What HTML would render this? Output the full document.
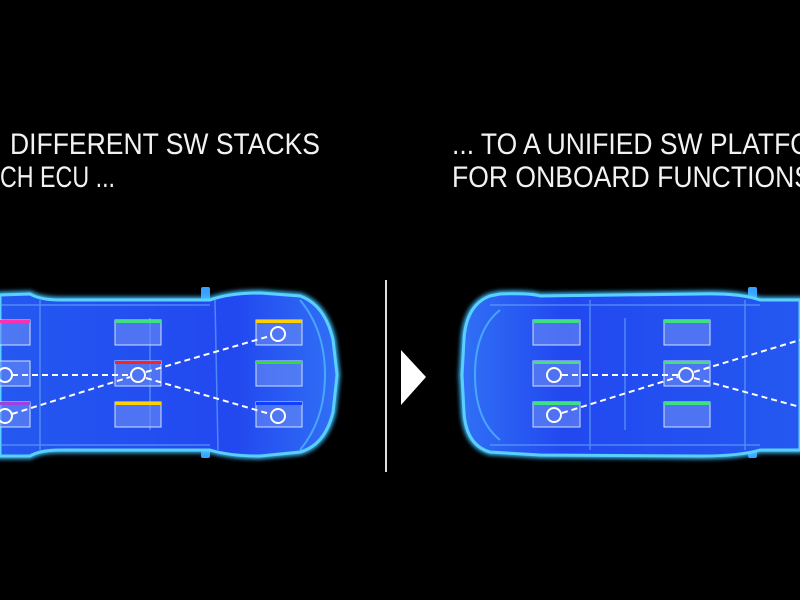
<!DOCTYPE html>
<html><head><meta charset="utf-8"><style>
html,body{margin:0;padding:0;background:#000;width:800px;height:600px;overflow:hidden}
svg{display:block}
text{font-family:"Liberation Sans",sans-serif;fill:#f2f2f2;font-size:30px}
</style></head><body>
<svg width="800" height="600" viewBox="0 0 800 600">
<defs>
<linearGradient id="bodyL" x1="0" x2="1"><stop offset="0" stop-color="#2458f0"/><stop offset="0.7" stop-color="#2248f0"/><stop offset="1" stop-color="#3070f5"/></linearGradient>
<linearGradient id="bodyR" x1="1" x2="0"><stop offset="0" stop-color="#2458f0"/><stop offset="0.7" stop-color="#2248f0"/><stop offset="1" stop-color="#3070f5"/></linearGradient>
<filter id="glow" x="-10%" y="-20%" width="120%" height="140%"><feGaussianBlur stdDeviation="2"/></filter>
</defs>
<text x="10" y="154" textLength="310" lengthAdjust="spacingAndGlyphs">DIFFERENT SW STACKS</text>
<text x="0" y="187" textLength="115" lengthAdjust="spacingAndGlyphs">CH ECU ...</text>
<text x="452" y="154" textLength="400" lengthAdjust="spacingAndGlyphs">... TO A UNIFIED SW PLATFORM</text>
<text x="452" y="187" textLength="360" lengthAdjust="spacingAndGlyphs">FOR ONBOARD FUNCTIONS</text>

<!-- Left car -->
<g>
<rect x="201" y="287" width="9" height="14" rx="2" fill="#3aa0ff"/>
<rect x="201" y="444" width="9" height="14" rx="2" fill="#3aa0ff"/>
<path d="M0,295 L30,294 Q40,300 60,300 L210,300 Q230,293 260,293 L300,296 Q325,305 333,340 L337,375 L333,412 Q325,445 300,452 L260,456 Q230,456 210,450 L60,450 Q40,450 30,456 L0,456 Z" fill="none" stroke="#40c0ff" stroke-width="6" filter="url(#glow)"/>
<path d="M0,295 L30,294 Q40,300 60,300 L210,300 Q230,293 260,293 L300,296 Q325,305 333,340 L337,375 L333,412 Q325,445 300,452 L260,456 Q230,456 210,450 L60,450 Q40,450 30,456 L0,456 Z" fill="url(#bodyL)" stroke="#5ad0ff" stroke-width="3"/>
<path d="M0,305 L210,305 M0,445 L210,445 M215,300 L218,450 M40,300 L40,450 M150,318 L150,430" stroke="#6ab0ff" stroke-width="1.5" fill="none" opacity="0.6"/>
<path d="M300,300 Q325,330 325,375 Q325,420 300,450" stroke="#5ad0ff" stroke-width="2" fill="none" opacity="0.6"/>
<g fill="#6a8cf5" fill-opacity="0.6" stroke="#d0e0ff" stroke-width="1">
<rect x="-5" y="320" width="35" height="25"/><rect x="-5" y="361" width="35" height="25"/><rect x="-5" y="402" width="35" height="25"/>
<rect x="115" y="320" width="46" height="25"/><rect x="115" y="361" width="46" height="25"/><rect x="115" y="402" width="46" height="25"/>
<rect x="256" y="320" width="46" height="25"/><rect x="256" y="361" width="46" height="25"/><rect x="256" y="402" width="46" height="25"/>
</g>
<rect x="0" y="320" width="30" height="3" fill="#ff2fb0"/>
<rect x="0" y="402" width="30" height="3" fill="#a040e0"/>
<rect x="115" y="320" width="46" height="3" fill="#40e080"/>
<rect x="115" y="361" width="46" height="3" fill="#ff2020"/>
<rect x="115" y="402" width="46" height="3" fill="#ffd000"/>
<rect x="256" y="320" width="46" height="3" fill="#ffd000"/>
<rect x="256" y="361" width="46" height="3" fill="#30e030"/>
<rect x="256" y="402" width="46" height="3" fill="#1040ff"/>
<g stroke="#fff" stroke-width="2" fill="none">
<path d="M12,375 L130,375 M12,414 L130,377 M146,372 L270,336 M146,378 L270,414" stroke-dasharray="6,4"/>
<circle cx="5" cy="375" r="7"/><circle cx="5" cy="416" r="7"/><circle cx="138" cy="375" r="7"/>
<circle cx="278" cy="334" r="7"/><circle cx="278" cy="416" r="7"/>
</g>
</g>

<line x1="386" y1="280" x2="386" y2="472" stroke="#ddd" stroke-width="2"/>
<polygon points="401,350 426,377 401,405" fill="#fff"/>

<!-- Right car -->
<g>
<rect x="748" y="287" width="9" height="14" rx="2" fill="#3aa0ff"/>
<rect x="748" y="444" width="9" height="14" rx="2" fill="#3aa0ff"/>
<path d="M800,300 L760,300 Q740,293 700,294 L540,296 Q530,293 500,294 L490,296 Q466,305 464,340 L462,375 L464,412 Q466,445 490,452 L540,455 L700,456 Q740,456 760,450 L800,450 Z" fill="none" stroke="#40c0ff" stroke-width="6" filter="url(#glow)"/>
<path d="M800,300 L760,300 Q740,293 700,294 L540,296 Q530,293 500,294 L490,296 Q466,305 464,340 L462,375 L464,412 Q466,445 490,452 L540,455 L700,456 Q740,456 760,450 L800,450 Z" fill="url(#bodyR)" stroke="#5ad0ff" stroke-width="3"/>
<path d="M490,305 L760,305 M490,445 L760,445 M625,318 L625,430 M590,300 L590,450 M745,300 L745,450" stroke="#6ab0ff" stroke-width="1.5" fill="none" opacity="0.6"/>
<path d="M500,310 Q475,330 475,375 Q475,420 500,440" stroke="#5ad0ff" stroke-width="2" fill="none" opacity="0.6"/>
<g fill="#6a8cf5" fill-opacity="0.6" stroke="#d0e0ff" stroke-width="1">
<rect x="533" y="320" width="47" height="25"/><rect x="533" y="361" width="47" height="25"/><rect x="533" y="402" width="47" height="25"/>
<rect x="664" y="320" width="46" height="25"/><rect x="664" y="361" width="46" height="25"/><rect x="664" y="402" width="46" height="25"/>
</g>
<g fill="#40e080">
<rect x="533" y="320" width="47" height="3"/><rect x="533" y="361" width="47" height="3"/><rect x="533" y="402" width="47" height="3"/>
<rect x="664" y="320" width="46" height="3"/><rect x="664" y="361" width="46" height="3"/><rect x="664" y="402" width="46" height="3"/>
</g>
<g stroke="#fff" stroke-width="2" fill="none">
<path d="M562,375 L678,375 M562,413 L678,377 M694,372 L800,340 M694,378 L800,407" stroke-dasharray="6,4"/>
<circle cx="554" cy="375" r="7"/><circle cx="554" cy="415" r="7"/><circle cx="686" cy="375" r="7"/>
</g>
</g>
</svg>
</body></html>
